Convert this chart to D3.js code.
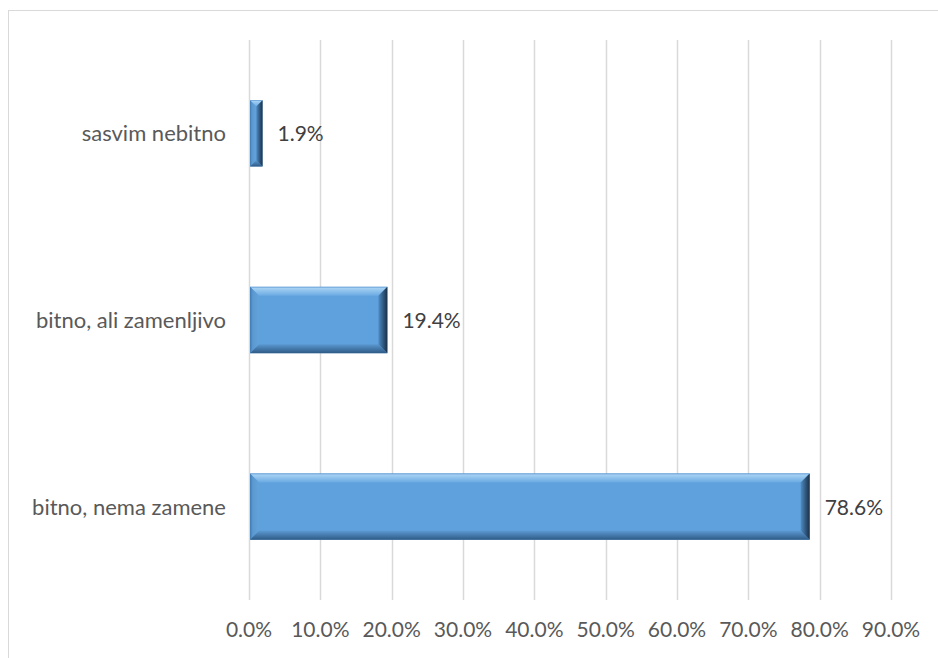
<!DOCTYPE html>
<html><head><meta charset="utf-8">
<script src="https://cdn.jsdelivr.net/npm/d3@7"></script>
<style>html,body{margin:0;padding:0;background:#fff;overflow:hidden}svg{display:block}</style>
</head><body>
<svg id="c" width="938" height="658"></svg>
<script>
const categories = ["sasvim nebitno", "bitno, ali zamenljivo", "bitno, nema zamene"];
const values = [1.9, 19.4, 78.6];
const valueLabels = ["1.9%", "19.4%", "78.6%"];
const ticks = [0, 10, 20, 30, 40, 50, 60, 70, 80, 90];
const tickLabels = ["0.0%","10.0%","20.0%","30.0%","40.0%","50.0%","60.0%","70.0%","80.0%","90.0%"];

const svg = d3.select("#c");
const font = "Lato, 'Open Sans', sans-serif";
const plotLeft = 249, plotRight = 891, plotTop = 40, plotBottom = 600;

svg.append("rect").attr("x", 8.5).attr("y", 10.5).attr("width", 1000).attr("height", 1000)
  .attr("fill", "#fff").attr("stroke", "#d9d9d9").attr("stroke-width", 1);

const x = d3.scaleLinear().domain([0, 90]).range([plotLeft, plotRight]);
const y = d3.scaleBand().domain(categories).range([plotTop, plotBottom]).paddingInner(0.645).paddingOuter(0.3225);

// gridlines
svg.append("g").selectAll("line").data(ticks).join("line")
  .attr("x1", d => Math.round(x(d)) + 0.5).attr("x2", d => Math.round(x(d)) + 0.5)
  .attr("y1", plotTop).attr("y2", plotBottom)
  .attr("stroke", "#d9d9d9").attr("stroke-width", 1.5);

// x axis labels
svg.append("g").selectAll("text").data(ticks).join("text")
  .attr("x", d => x(d)).attr("y", 637)
  .attr("text-anchor", "middle").attr("fill", "#595959")
  .style("font-family", font).style("font-size", "21px")
  .text((d, i) => tickLabels[i]);

// category labels
svg.append("g").selectAll("text").data(categories).join("text")
  .attr("x", 226).attr("y", d => y(d) + y.bandwidth() / 2 + 8)
  .attr("text-anchor", "end").attr("fill", "#595959")
  .style("font-family", font).style("font-size", "22px")
  .text(d => d);

// gradients
const defs = svg.append("defs");
function grad(id, x1, y1, x2, y2, stops) {
  const g = defs.append("linearGradient").attr("id", id)
    .attr("x1", x1).attr("y1", y1).attr("x2", x2).attr("y2", y2);
  stops.forEach(s => g.append("stop").attr("offset", s[0]).attr("stop-color", s[1]));
}
grad("gTop", 0, 0, 0, 1, [[0, "#5d9ad2"], [0.15, "#a5d0f3"], [1, "#6aaae2"]]);
grad("gLeft", 0, 0, 1, 0, [[0, "#3f7ab3"], [0.3, "#5b98d0"], [1, "#63a3dc"]]);
grad("gBottom", 0, 0, 0, 1, [[0, "#5b99d1"], [1, "#2f5a86"]]);
grad("gRight", 0, 0, 1, 0, [[0, "#4f8cc3"], [0.6, "#2e5378"], [1, "#1b3047"]]);

const bars = svg.append("g");
categories.forEach((c, i) => {
  const x0 = x(0) + 1, x1 = x(values[i]);
  const y0 = y(c), y1 = y(c) + y.bandwidth();
  const w = x1 - x0, h = y1 - y0;
  const b = Math.min(9, w / 2, h / 2);
  const g = bars.append("g");
  g.append("rect").attr("x", x0).attr("y", y0).attr("width", w).attr("height", h).attr("fill", "#5fa1dc");
  const poly = (pts, fill) => g.append("polygon").attr("points", pts.map(p => p.join(",")).join(" ")).attr("fill", fill);
  poly([[x0, y0], [x1, y0], [x1 - b, y0 + b], [x0 + b, y0 + b]], "url(#gTop)");
  poly([[x0, y0], [x0 + b, y0 + b], [x0 + b, y1 - b], [x0, y1]], "url(#gLeft)");
  poly([[x0, y1], [x0 + b, y1 - b], [x1 - b, y1 - b], [x1, y1]], "url(#gBottom)");
  poly([[x1, y0], [x1, y1], [x1 - b, y1 - b], [x1 - b, y0 + b]], "url(#gRight)");
});

// value labels
svg.append("g").selectAll("text").data(values).join("text")
  .attr("x", d => x(d) + 15).attr("y", (d, i) => y(categories[i]) + y.bandwidth() / 2 + 8)
  .attr("fill", "#404040")
  .style("font-family", font).style("font-size", "21px")
  .text((d, i) => valueLabels[i]);
</script>
</body></html>
